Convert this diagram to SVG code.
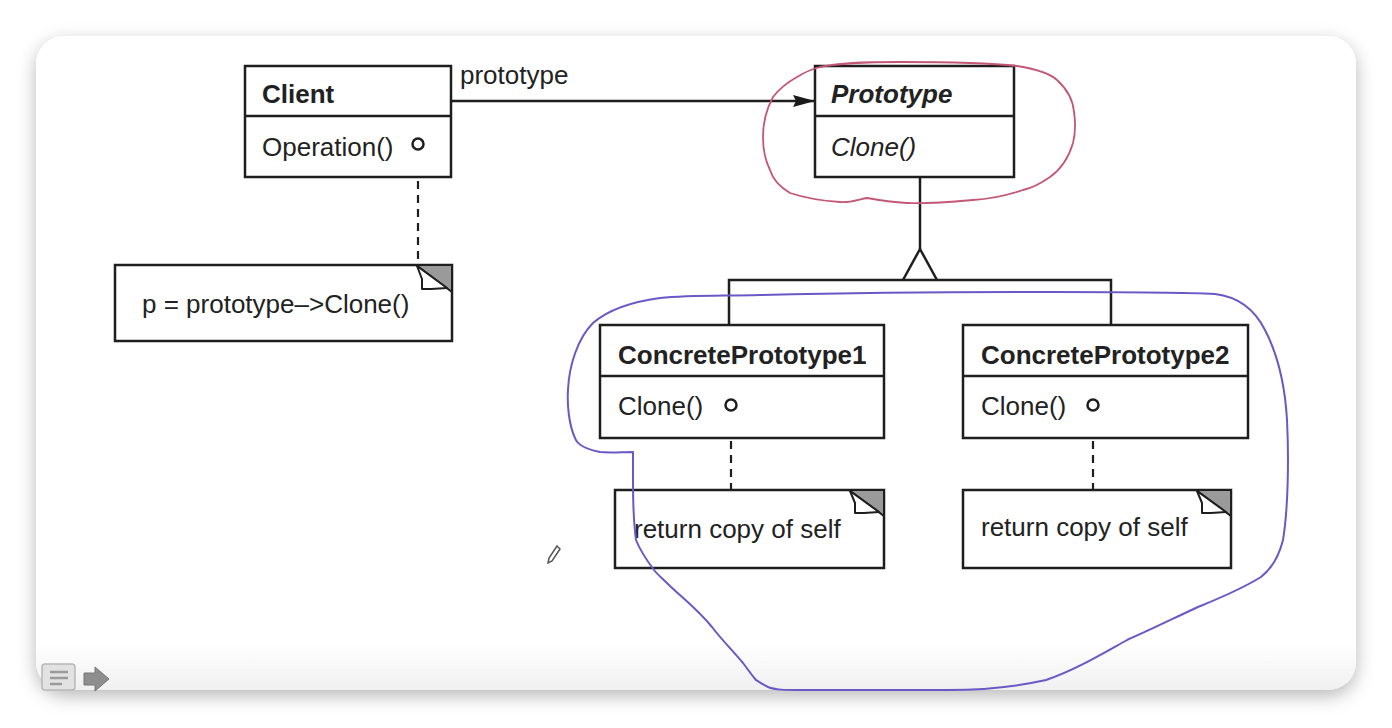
<svg xmlns="http://www.w3.org/2000/svg" width="1392" height="728" viewBox="0 0 1392 728">
<defs>
<filter id="sh" x="-5%" y="-5%" width="110%" height="115%">
<feDropShadow dx="0" dy="6" stdDeviation="9" flood-color="#000" flood-opacity="0.28"/>
</filter>
<linearGradient id="fg" x1="0" y1="0" x2="0" y2="1">
<stop offset="0" stop-color="#fff"/>
<stop offset="0.93" stop-color="#fff"/>
<stop offset="1" stop-color="#f0f0f0"/>
</linearGradient>
<marker id="arr" viewBox="0 0 22 14" refX="22" refY="7" markerWidth="22" markerHeight="14" markerUnits="userSpaceOnUse" orient="auto">
<path d="M0,1 L22,7 L0,13 L3,7 Z" fill="#1a1a1a"/>
</marker>
<style>
.box{fill:#fff;stroke:#1e1e1e;stroke-width:2.5}
.ln{fill:none;stroke:#1e1e1e;stroke-width:2.5}
.dash{fill:none;stroke:#1e1e1e;stroke-width:2.2;stroke-dasharray:8 6}
.t{font-family:"Liberation Sans",Arial,sans-serif;font-size:26px;fill:#222}
.b{font-weight:bold}
.i{font-style:italic}
.ear{fill:#9a9a9a;stroke:#1e1e1e;stroke-width:2}
.fold{fill:#fff;stroke:#1e1e1e;stroke-width:2;stroke-linejoin:round}
.lol{fill:#fff;stroke:#1e1e1e;stroke-width:2.5}
</style>
</defs>
<rect width="1392" height="728" fill="#fff"/>
<rect x="36" y="36" width="1320" height="654" rx="28" fill="url(#fg)" filter="url(#sh)"/>

<g id="connectors">
<line class="ln" x1="451" y1="101" x2="815" y2="101" marker-end="url(#arr)"/>
<text class="t" x="460" y="84">prototype</text>
<line class="ln" x1="920" y1="177" x2="920" y2="249"/>
<path class="ln" d="M903,280 L920,249 L937,280"/>
<path class="ln" d="M729,325 L729,280 L1111,280 L1111,325"/>
<line class="ln" x1="418" y1="150" x2="418" y2="161"/>
<line class="dash" x1="418" y1="167" x2="418" y2="266"/>
<line class="ln" x1="731" y1="411" x2="731" y2="421"/>
<line class="dash" x1="731" y1="427" x2="731" y2="500"/>
<line class="ln" x1="1093" y1="411" x2="1093" y2="421"/>
<line class="dash" x1="1093" y1="427" x2="1093" y2="490"/>
</g>

<g id="client">
<rect class="box" x="245" y="66" width="206" height="111"/>
<line class="ln" x1="245" y1="116" x2="451" y2="116"/>
<text class="t b" x="262" y="103">Client</text>
<text class="t" x="262" y="156">Operation()</text>
<circle class="lol" cx="418" cy="144" r="5.5"/>
</g>

<g id="note-client">
<rect class="box" x="115" y="265" width="337" height="76"/>
<path class="ear" d="M416,265 L452,265 L452,292 Z"/>
<path class="fold" d="M417,266 L422,279 L422,289 L431,289 L447,288 Z"/>
<text class="t" x="142" y="313">p = prototype–&gt;Clone()</text>
</g>

<g id="prototype">
<rect class="box" x="815" y="66" width="199" height="111"/>
<line class="ln" x1="815" y1="116" x2="1014" y2="116"/>
<text class="t b i" x="831" y="103">Prototype</text>
<text class="t i" x="831" y="156">Clone()</text>
</g>

<g id="concrete1">
<rect class="box" x="600" y="325" width="284" height="113"/>
<line class="ln" x1="600" y1="376" x2="884" y2="376"/>
<text class="t b" x="618" y="364">ConcretePrototype1</text>
<text class="t" x="618" y="415">Clone()</text>
<circle class="lol" cx="731" cy="405" r="5.5"/>
</g>

<g id="concrete2">
<rect class="box" x="963" y="325" width="285" height="113"/>
<line class="ln" x1="963" y1="376" x2="1248" y2="376"/>
<text class="t b" x="981" y="364">ConcretePrototype2</text>
<text class="t" x="981" y="415">Clone()</text>
<circle class="lol" cx="1093" cy="405" r="5.5"/>
</g>

<g id="note-c1">
<rect class="box" x="615" y="490" width="269" height="78"/>
<path class="ear" d="M849,490 L884,490 L884,516 Z"/>
<path class="fold" d="M850,491 L855,503 L855,513 L864,513 L879,512 Z"/>
<text class="t" x="634" y="538">return copy of self</text>
</g>

<g id="note-c2">
<rect class="box" x="963" y="490" width="268" height="78"/>
<path class="ear" d="M1196,490 L1231,490 L1231,516 Z"/>
<path class="fold" d="M1197,491 L1202,503 L1202,513 L1211,513 L1226,512 Z"/>
<text class="t" x="981" y="536">return copy of self</text>
</g>

<g id="annotations" fill="none" stroke-linecap="round" stroke-linejoin="round">
<path stroke="#c45776" stroke-width="1.8" d="M1017,66 C1035,69 1050,73 1057,80 C1068,90 1073,100 1074,112 C1076,125 1075,135 1073,143 C1068,160 1060,170 1050,177 C1040,184 1032,188 1023,190 C1005,196 990,199 973,200 C950,202 925,204 907,203 C890,202 878,200 867,198 C860,199 850,203 840,202 C825,201 805,198 790,193 C780,187 773,180 770,170 C765,160 763,148 763,137 C763,122 767,108 773,97 C780,88 788,82 797,77 C805,72 812,69 820,67 C840,63 860,62 900,62 C950,62 990,63 1017,66"/>
<path stroke="#6a58c6" stroke-width="2" d="M633,482 L633,452 C622,452 610,453 600,452 C585,449 577,444 575,438 C569,425 567,405 568,390 C569,365 578,338 593,323 C608,310 630,302 660,298 C690,295 720,296 760,295 C850,293 950,292 1050,292 C1120,292 1180,292 1215,294 C1240,297 1255,310 1265,330 C1278,355 1285,385 1287,420 C1289,460 1288,510 1283,540 C1278,560 1270,570 1261,577 C1240,590 1220,598 1198,607 C1170,620 1150,630 1127,640 C1100,655 1075,670 1046,680 C1010,688 980,690 948,690 L800,690 C785,690 775,690 768,687 C762,684 758,681 756,680 C750,673 747,668 743,663 C732,650 722,640 712,627 C698,610 685,600 671,587 C662,578 658,575 654,570 C645,558 640,550 636,540 C634,525 633,505 633,482"/>
</g>

<g id="ui-icons">
<rect x="42" y="664" width="33" height="26" rx="3" fill="#e2e2e2" stroke="#b8b8b8" stroke-width="1.5"/>
<path d="M50,672 L68,672 M50,678 L68,678 M50,684 L62,684" stroke="#9a9a9a" stroke-width="2.5"/>
<path d="M84,673 L95,673 L95,667 L109,679 L95,691 L95,685 L84,685 Z" fill="#8e8e8e" stroke="#777" stroke-width="1"/>
<path d="M557,546 L560,549 L552,561 L548,563 L549,558 Z" fill="none" stroke="#555" stroke-width="1.5"/>
</g>
</svg>
